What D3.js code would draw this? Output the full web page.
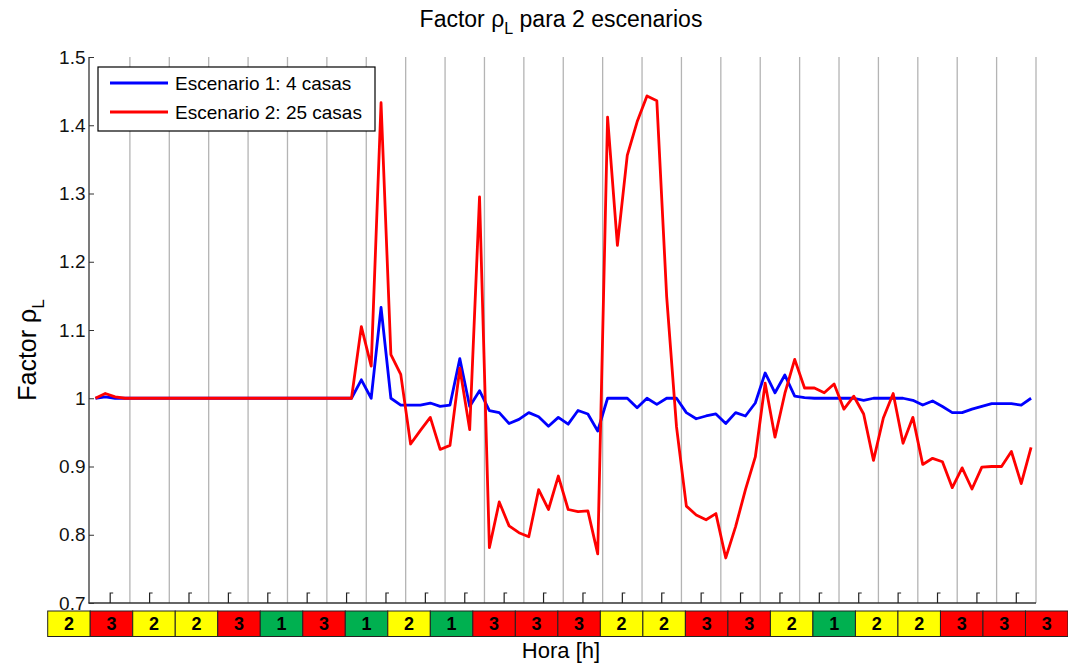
<!DOCTYPE html>
<html><head><meta charset="utf-8">
<script src="https://cdn.jsdelivr.net/npm/d3@7"></script>
<style>
html,body{margin:0;padding:0;background:#fff;}
svg{display:block;font-family:"Liberation Sans",Arial,sans-serif;}
</style></head>
<body><svg id="c" width="1068" height="664"></svg>
<script>
// ---- data ----
const stepsPerHour = 4;
const scenario1 = [1.0,1.002,1.0,1.0,1.0,1.0,1.0,1.0,1.0,1.0,1.0,1.0,1.0,1.0,1.0,1.0,1.0,1.0,1.0,1.0,1.0,1.0,1.0,1.0,1.0,1.0,1.0,
  1.027,1.0,1.133,1.0,0.99,0.99,0.99,0.993,0.988,0.99,1.058,0.988,1.011,0.982,0.979,0.963,0.969,0.979,0.973,0.959,0.972,0.962,0.982,0.977,0.952,
  1.0,1.0,1.0,0.986,1.0,0.991,1.0,1.0,0.979,0.97,0.974,0.977,0.963,0.979,0.974,0.993,1.037,1.008,1.034,1.003,1.001,1.0,1.0,1.0,1.0,1.0,0.997,
  1.0,1.0,1.0,1.0,0.997,0.99,0.996,0.988,0.979,0.979,0.984,0.988,0.992,0.992,0.992,0.99,1.0];
const scenario2 = [1.0,1.007,1.002,1.0,1.0,1.0,1.0,1.0,1.0,1.0,1.0,1.0,1.0,1.0,1.0,1.0,1.0,1.0,1.0,1.0,1.0,1.0,1.0,1.0,1.0,1.0,1.0,
  1.105,1.047,1.433,1.064,1.035,0.933,0.953,0.972,0.925,0.931,1.044,0.954,1.295,0.781,0.848,0.813,0.803,0.797,0.866,0.837,0.886,0.837,0.834,0.835,0.772,
  1.412,1.224,1.356,1.405,1.443,1.436,1.149,0.958,0.842,0.829,0.822,0.831,0.766,0.812,0.866,0.914,1.022,0.943,1.007,1.057,1.015,1.015,1.008,1.021,0.984,1.003,0.977,
  0.909,0.971,1.007,0.934,0.972,0.903,0.912,0.907,0.869,0.898,0.867,0.899,0.9,0.9,0.922,0.875,0.928];
const seriesNames = ["Escenario 1: 4 casas","Escenario 2: 25 casas"];
const seriesColors = ["#0000ff","#ff0000"];
const yTicks = [0.7,0.8,0.9,1,1.1,1.2,1.3,1.4,1.5];
const yTickLabels = ["0.7","0.8","0.9","1","1.1","1.2","1.3","1.4","1.5"];
const hourGrid = d3.range(1,25);
const halfHourTicks = d3.range(0.5,24,1);
const tariffLevels = [2,3,2,2,3,1,3,1,2,1,3,3,3,2,2,3,3,2,1,2,2,3,3,3];
const tariffColors = {1:"#00b050",2:"#ffff00",3:"#ff0000"};

// ---- layout ----
const svg = d3.select("#c");
const x = d3.scaleLinear().domain([0,24]).range([90.5,1036]);
const y = d3.scaleLinear().domain([0.7,1.5]).range([603,57]);
const tOf = i => (i+0.5)/stepsPerHour;

// grid lines
svg.append("g").selectAll("line").data(hourGrid).join("line")
  .attr("x1",d=>x(d)).attr("x2",d=>x(d)).attr("y1",y(1.5)).attr("y2",y(0.7))
  .attr("stroke","#b4b4b4").attr("stroke-width",1.3);

// y axis
const yAxis = d3.axisRight(y).tickValues(yTicks).tickSize(5).tickFormat("");
const gy = svg.append("g").attr("transform",`translate(${x(0)-1.5},0)`).call(yAxis);
gy.select(".domain").remove();
gy.selectAll(".tick line").attr("stroke","#333");
svg.append("line").attr("x1",x(0)-1.5).attr("x2",x(0)-1.5).attr("y1",y(1.5)).attr("y2",y(0.7)+0.5)
  .attr("stroke","#333").attr("stroke-width",1.3);
svg.append("g").selectAll("text").data(yTicks).join("text")
  .attr("x",x(0)-5).attr("y",d=>y(d)).attr("dy","0.35em").attr("text-anchor","end")
  .attr("font-size",19).attr("fill","#111").text((d,i)=>yTickLabels[i]);

// x axis line
svg.append("line").attr("x1",x(0)-2).attr("x2",x(24)).attr("y1",y(0.7)).attr("y2",y(0.7))
  .attr("stroke","#333").attr("stroke-width",1.3);
// half-hour hook ticks
svg.append("g").selectAll("path").data(halfHourTicks).join("path")
  .attr("d",d=>`M${x(d)},${y(0.7)} V${y(0.7)-10} h3`)
  .attr("fill","none").attr("stroke","#222").attr("stroke-width",1.2);

// lines
const line = d3.line().x((d,i)=>x(tOf(i))).y(d=>y(d));
[scenario1,scenario2].forEach((s,j)=>{
  svg.append("path").datum(s).attr("d",line).attr("fill","none")
    .attr("stroke",seriesColors[j]).attr("stroke-width",2.8).attr("stroke-linejoin","round");
});

// legend
const lg = svg.append("g");
lg.append("rect").attr("x",98).attr("y",67).attr("width",277).attr("height",64)
  .attr("fill","#fff").attr("stroke","#000").attr("stroke-width",1.2);
seriesNames.forEach((n,i)=>{
  const yy = 83 + i*29;
  lg.append("line").attr("x1",110).attr("x2",168).attr("y1",yy).attr("y2",yy)
    .attr("stroke",seriesColors[i]).attr("stroke-width",2.8);
  lg.append("text").attr("x",175).attr("y",yy).attr("dy","0.36em").attr("font-size",19)
    .attr("fill","#000").text(n);
});

// title
const title = svg.append("text").attr("x",561).attr("y",27).attr("text-anchor","middle")
  .attr("font-size",23).attr("fill","#000");
title.append("tspan").text("Factor ρ");
title.append("tspan").attr("font-size",16).attr("dy",7).text("L");
title.append("tspan").attr("dy",-7).text(" para 2 escenarios");

// y label
const yl = svg.append("text").attr("transform","translate(36,350) rotate(-90)")
  .attr("text-anchor","middle").attr("font-size",25).attr("fill","#000");
yl.append("tspan").text("Factor ρ");
yl.append("tspan").attr("font-size",17).attr("dy",8).text("L");

// tariff band
const band = d3.scaleBand().domain(d3.range(tariffLevels.length)).range([47.7,1068]);
const bg = svg.append("g");
bg.selectAll("rect").data(tariffLevels).join("rect")
  .attr("x",(d,i)=>band(i)).attr("y",611).attr("width",band.bandwidth()).attr("height",25.5)
  .attr("fill",d=>tariffColors[d]).attr("stroke","#222").attr("stroke-width",1);
bg.selectAll("text").data(tariffLevels).join("text")
  .attr("x",(d,i)=>band(i)+band.bandwidth()/2).attr("y",624).attr("dy","0.36em")
  .attr("text-anchor","middle").attr("font-size",18).attr("font-weight","bold").attr("fill","#000")
  .text(d=>d);

// x label
svg.append("text").attr("x",561).attr("y",658).attr("text-anchor","middle")
  .attr("font-size",22).attr("fill","#000").text("Hora [h]");
</script></body></html>
